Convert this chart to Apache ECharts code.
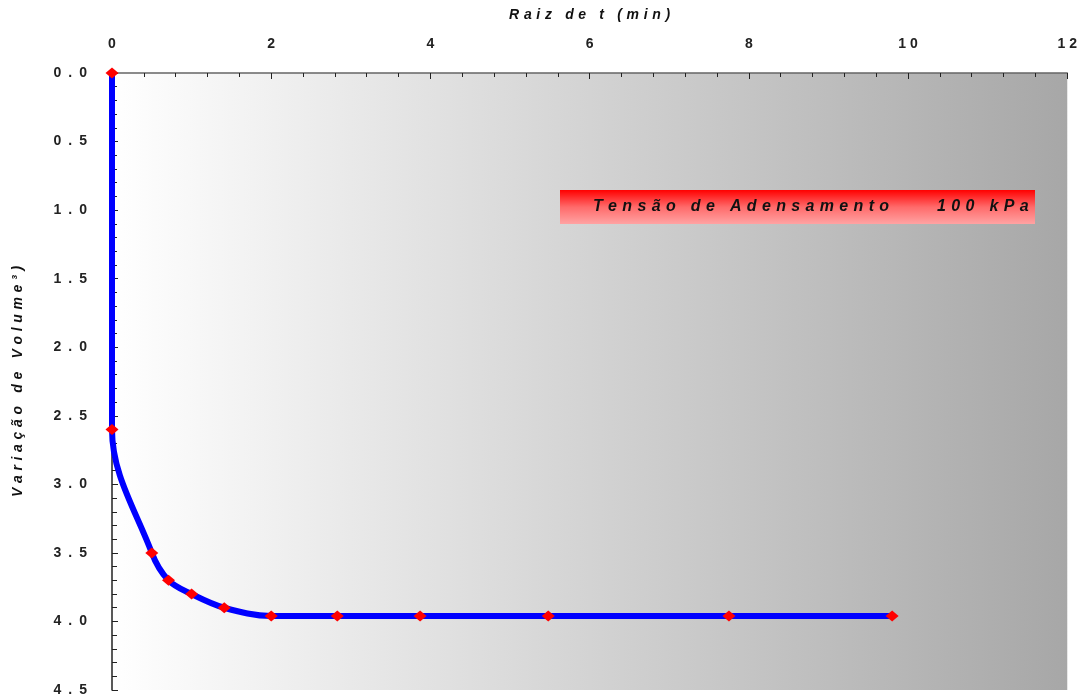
<!DOCTYPE html>
<html>
<head>
<meta charset="utf-8">
<script src="https://cdn.jsdelivr.net/npm/echarts@6/dist/echarts.min.js"></script>
<style>html,body{margin:0;padding:0;background:#fff;}#c{width:1080px;height:697px;}</style>
</head>
<body>
<div id="c"></div>
<script>
// Data
const sqrtT = [0, 0, 0.5, 0.71, 1.0, 1.41, 2.0, 2.83, 3.87, 5.48, 7.75, 9.8];
const volChange = [0, 2.6, 3.5, 3.7, 3.8, 3.9, 3.96, 3.96, 3.96, 3.96, 3.96, 3.96];
const seriesName = 'Tensão de Adensamento     100 kPa';
const xTitle = 'Raiz de t (min)';
const yTitle = 'Variação de Volume³)';
const xTickLabels = ['0', '2', '4', '6', '8', '10', '12'];

const SP = '\u2004';
function spaced(s, sep) { return s.split('').join(sep); }

const chart = echarts.init(document.getElementById('c'), null, {renderer: 'canvas'});
const font = 'Liberation Sans, Arial, sans-serif';
const points = sqrtT.map((x, i) => [x, volChange[i]]);

chart.setOption({
  animation: false,
  backgroundColor: '#ffffff',
  grid: {
    left: 112, right: 10, top: 73, bottom: 7,
    show: true, borderWidth: 0,
    backgroundColor: {
      type: 'linear', x: 0, y: 0, x2: 1, y2: 0,
      colorStops: [{offset: 0, color: '#ffffff'}, {offset: 1, color: '#a7a7a7'}]
    }
  },
  xAxis: {
    type: 'value', position: 'top', min: 0, max: 12, interval: 2,
    name: spaced(xTitle, SP), nameLocation: 'middle', nameGap: 51,
    nameTextStyle: {fontFamily: font, fontWeight: 'bold', fontStyle: 'italic', fontSize: 14, color: '#111'},
    axisLine: {show: true, lineStyle: {color: '#666', width: 1.5}},
    axisTick: {show: true, inside: true, length: 6, lineStyle: {color: '#222'}},
    minorTick: {show: true, splitNumber: 5, length: 4, lineStyle: {color: '#222'}},
    splitLine: {show: false}, minorSplitLine: {show: false},
    axisLabel: {margin: 22, fontFamily: font, fontWeight: 'bold', fontSize: 14, color: '#222',
      formatter: v => spaced(xTickLabels[Math.round(v / 2)] || String(v), ' ')}
  },
  yAxis: {
    type: 'value', inverse: true, min: 0, max: 4.5, interval: 0.5,
    name: spaced(yTitle, SP), nameLocation: 'middle', nameGap: 87,
    nameTextStyle: {fontFamily: font, fontWeight: 'bold', fontStyle: 'italic', fontSize: 14, color: '#111'},
    axisLine: {show: true, lineStyle: {color: '#222', width: 1.5}},
    axisTick: {show: true, inside: true, length: 6, lineStyle: {color: '#222'}},
    minorTick: {show: true, splitNumber: 5, length: 5, lineStyle: {color: '#222'}},
    splitLine: {show: false}, minorSplitLine: {show: false},
    axisLabel: {margin: 25, fontFamily: font, fontWeight: 'bold', fontSize: 14, color: '#222',
      formatter: v => spaced(v.toFixed(1), '\u2002')}
  },
  series: [{
    name: seriesName, type: 'line', data: points, smooth: 0.35,
    symbol: 'diamond', symbolSize: [13, 11],
    itemStyle: {color: '#ff0000'},
    lineStyle: {color: '#0000ff', width: 6},
    z: 3
  }],
  graphic: [{
    type: 'group', left: 560, top: 190,
    children: [{
      type: 'rect', shape: {x: 0, y: 0, width: 475, height: 34},
      style: {fill: {type: 'linear', x: 0, y: 0, x2: 0, y2: 1,
        colorStops: [{offset: 0, color: '#ff0000'}, {offset: 0.5, color: '#ff6a6a'}, {offset: 1, color: '#ffa3a3'}]}}
    }, {
      type: 'text', style: {x: 33, y: 17,
        text: spaced('Tensão de Adensamento', SP) + '\u2003\u2003\u2003' + spaced('100 kPa', SP),
        font: 'italic bold 16px ' + font, fill: '#111', verticalAlign: 'middle'}
    }]
  }]
});
</script>
</body>
</html>
